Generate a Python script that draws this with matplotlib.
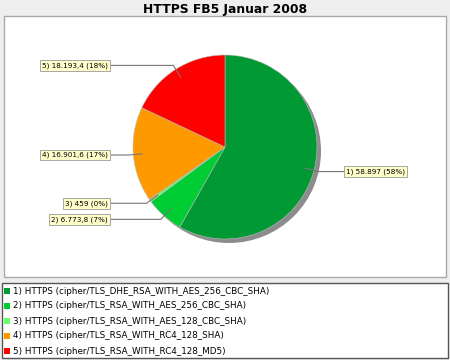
import math
import matplotlib
matplotlib.use("Agg")
import matplotlib.pyplot as plt
from matplotlib.patches import Rectangle, Circle

# ---- data ----
title = "HTTPS FB5 Januar 2008"
series_names = [
    "1) HTTPS (cipher/TLS_DHE_RSA_WITH_AES_256_CBC_SHA)",
    "2) HTTPS (cipher/TLS_RSA_WITH_AES_256_CBC_SHA)",
    "3) HTTPS (cipher/TLS_RSA_WITH_AES_128_CBC_SHA)",
    "4) HTTPS (cipher/TLS_RSA_WITH_RC4_128_SHA)",
    "5) HTTPS (cipher/TLS_RSA_WITH_RC4_128_MD5)",
]
values = [58897, 6773.8, 459, 16901.6, 18193.4]
colors = ["#009933", "#00CC33", "#66FF66", "#FF9900", "#FF0000"]

W, H = 450, 360


def py(y):
    return H - y


def fmt_de(v):
    s = f"{v:,.1f}"
    if s.endswith(".0"):
        s = s[:-2]
    return s.replace(",", "X").replace(".", ",").replace("X", ".")


fig = plt.figure(figsize=(W / 100, H / 100), dpi=100)
fig.patch.set_facecolor("#EEEEEE")
ax = fig.add_axes([0, 0, 1, 1])
ax.set_facecolor("none")

# plot panel
ax.add_patch(Rectangle((4, py(277)), 442, 261, fc="white", ec="#AAAAAA", lw=1.0, zorder=0))

cx, cy, R = 225, py(147), 92
# shadow
ax.add_patch(Circle((cx + 4, cy - 4), R, fc="#8C8C8C", ec="none", zorder=1))

wedges, _ = ax.pie(values, colors=colors, startangle=90, counterclock=False,
                   center=(cx, cy), radius=R, frame=True,
                   wedgeprops=dict(linewidth=0.4, edgecolor="#BBBBBB", zorder=2))
for w in wedges:
    w.set_zorder(2)

total = sum(values)
left_x, right_x = 110, 344
for i, (w, v) in enumerate(zip(wedges, values)):
    mid = math.radians((w.theta1 + w.theta2) / 2)
    ax_ = cx + 0.9 * R * math.cos(mid)
    ay_ = cy + 0.9 * R * math.sin(mid)
    ex = cx + 1.05 * R * math.cos(mid)
    ey = cy + 1.05 * R * math.sin(mid)
    pct = round(v / total * 100)
    label = f"{i + 1}) {fmt_de(v)} ({pct}%)"
    if math.cos(mid) >= 0:
        bx, ha = right_x, "left"
    else:
        bx, ha = left_x, "right"
    ax.plot([ax_, ex, bx], [ay_, ey, ey], color="#777777", lw=0.8, zorder=3)
    ax.text(bx + (2 if ha == "left" else -2), ey, label, ha=ha, va="center",
            fontsize=5.2, color="black", zorder=4,
            bbox=dict(boxstyle="square,pad=0.3", fc="#FFFFCC", ec="#999999", lw=0.6))

# title
ax.text(W / 2, py(9), title, ha="center", va="center", fontsize=8.9,
        fontweight="bold", color="black")

# legend
ax.add_patch(Rectangle((2, py(358)), 446, 75, fc="white", ec="#555555", lw=1.0, zorder=1))
for i, (name, c) in enumerate(zip(series_names, colors)):
    yy = py(291 + i * 15)
    ax.add_patch(Rectangle((4, yy - 3), 6, 6, fc=c, ec="none", zorder=2))
    ax.text(13, yy, name, ha="left", va="center", fontsize=6.3, color="black", zorder=2)

ax.set_xlim(0, W)
ax.set_ylim(0, H)
ax.set_aspect("auto")
ax.axis("off")

fig.savefig("out.png", dpi=100, facecolor=fig.get_facecolor())
